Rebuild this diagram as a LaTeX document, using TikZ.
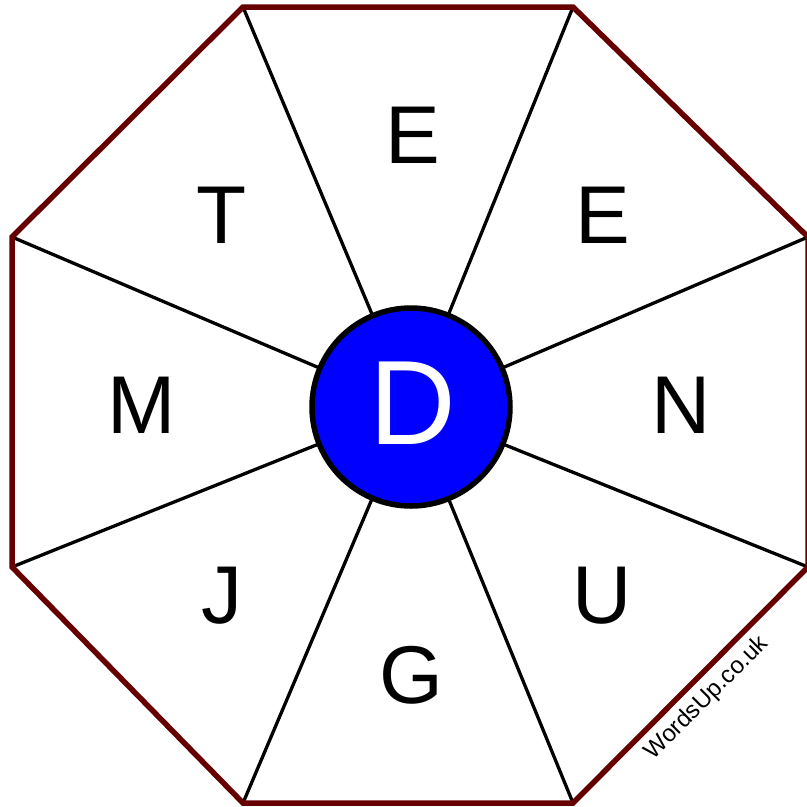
\documentclass[tikz,border=0pt]{standalone}
\usepackage{fontspec}
\setmainfont{Liberation Sans}
\definecolor{rim}{HTML}{660000}
\definecolor{hub}{HTML}{0000FF}
\begin{document}
\begin{tikzpicture}[x=1pt,y=-1pt,
  spoke/.style={draw=black,line width=3.3pt},
  rimline/.style={draw=rim,line width=5.5pt,line join=miter},
  letter/.style={anchor=base,inner sep=0pt,font=\fontsize{82}{82}\selectfont},
  hubnode/.style={circle,draw=black,fill=hub,line width=5.5pt,minimum size=198pt,inner sep=0pt,text=white,font=\fontsize{120}{120}\selectfont}]
\useasboundingbox (0,0) rectangle (807,807);
\coordinate (v1) at (243,7);
\coordinate (v2) at (573,7);
\coordinate (v3) at (808,237);
\coordinate (v4) at (808,567);
\coordinate (v5) at (573,803);
\coordinate (v6) at (243,803);
\coordinate (v7) at (12,567);
\coordinate (v8) at (12,237);
\coordinate (ctr) at (411,407);
\foreach \v in {v1,v2,v3,v4,v5,v6,v7,v8} \draw[spoke] (\v) -- (ctr);
\draw[rimline] (v1) -- (v2) -- (v3) -- (v4) -- (v5) -- (v6) -- (v7) -- (v8) -- cycle;
\node[hubnode] (hub) at (ctr) {};
\node[anchor=base,inner sep=0pt,text=white,font=\fontsize{120}{120}\selectfont] (d) at (413,444) {D};
\node[letter] (e1) at (413,163) {E};
\node[letter] (e2) at (603,243) {E};
\node[letter] (n) at (681,433) {N};
\node[letter] (u) at (602,623) {U};
\node[letter] (g) at (411,703) {G};
\node[letter] (j) at (222,623) {J};
\node[letter] (m) at (142,433) {M};
\node[letter] (t) at (222,243) {T};
\node[rotate=45,inner sep=0pt,font=\fontsize{24}{24}\selectfont] (wm) at (707,698) {WordsUp.co.uk};
\end{tikzpicture}
\end{document}
